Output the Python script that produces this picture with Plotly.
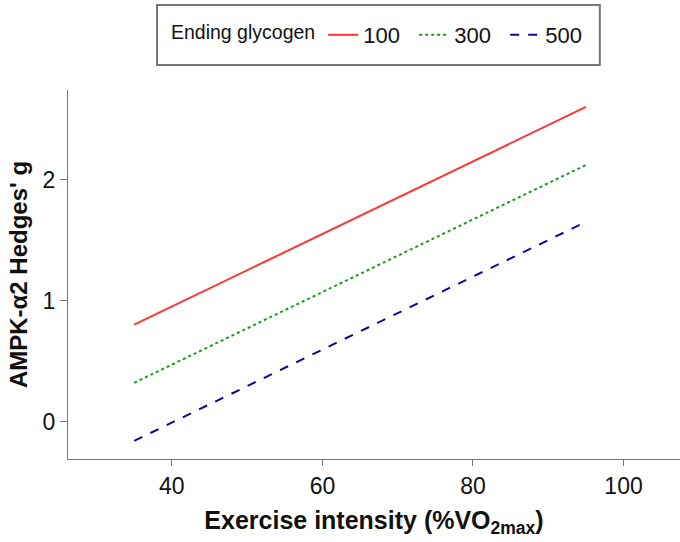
import plotly.graph_objects as go

# Predicted effect size across exercise intensity, by ending glycogen level
intensity = [35, 95]
glycogen_levels = ["100", "300", "500"]
hedges_g_100 = [0.80, 2.60]
hedges_g_300 = [0.32, 2.12]
hedges_g_500 = [-0.16, 1.65]

x_ticks = [40, 60, 80, 100]
y_ticks = [0, 1, 2]

series = [
    (glycogen_levels[0], hedges_g_100, "#FF3333", "solid"),
    (glycogen_levels[1], hedges_g_300, "#1A9A1A", "dot"),
    (glycogen_levels[2], hedges_g_500, "#0A0A99", "dash"),
]

fig = go.Figure()
for name, vals, color, dash in series:
    fig.add_trace(go.Scatter(
        x=intensity, y=vals, mode="lines", name=name,
        line=dict(color=color, width=2, dash=dash),
    ))

font_family = "Liberation Sans, Arial, sans-serif"
axis_grey = "#777777"

# Framed box around the legend row
fig.add_shape(
    type="rect", xref="paper", yref="paper",
    x0=0.1454, x1=0.869, y0=1.0678, y1=1.2304,
    line=dict(color=axis_grey, width=2), fillcolor="rgba(0,0,0,0)",
)

fig.update_layout(
    width=680, height=542,
    margin=dict(l=68, r=0, t=90, b=83),
    plot_bgcolor="white", paper_bgcolor="white",
    font=dict(family=font_family, color="#111111"),
    legend=dict(
        orientation="h",
        x=0.165, xanchor="left", y=1.149, yanchor="middle",
        title=dict(text="Ending glycogen", font=dict(size=19.5)),
        font=dict(size=22),
        borderwidth=0, bgcolor="rgba(0,0,0,0)",
        entrywidth=46, entrywidthmode="pixels",
    ),
    xaxis=dict(
        range=[26.2, 107.5], tickvals=x_ticks,
        showgrid=False, zeroline=False,
        showline=True, linecolor=axis_grey, linewidth=1,
        ticks="outside", tickcolor=axis_grey, ticklen=6,
        tickfont=dict(size=23),
        title=dict(text="<b>Exercise intensity (%VO<sub>2max</sub>)</b>",
                   font=dict(size=25), standoff=13),
    ),
    yaxis=dict(
        range=[-0.31, 2.74], tickvals=y_ticks,
        showgrid=False, zeroline=False,
        showline=True, linecolor=axis_grey, linewidth=1,
        ticks="outside", tickcolor=axis_grey, ticklen=7,
        tickfont=dict(size=23),
        title=dict(text="<b>AMPK-α2 Hedges' g</b>",
                   font=dict(size=24), standoff=8),
    ),
)

fig.write_html("out.html")
